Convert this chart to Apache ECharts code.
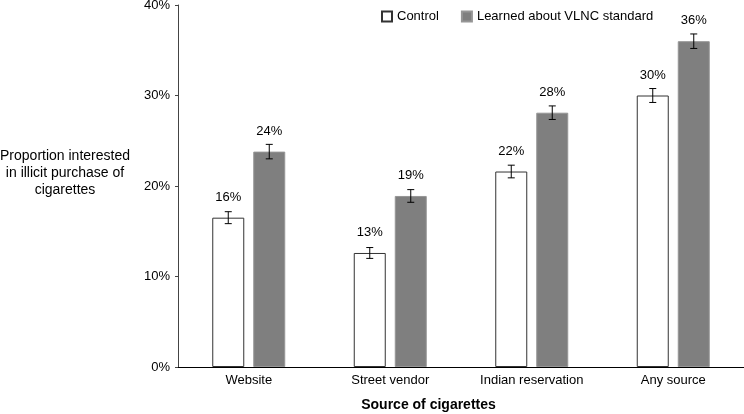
<!DOCTYPE html>
<html>
<head>
<meta charset="utf-8">
<script src="https://cdn.jsdelivr.net/npm/echarts@6/dist/echarts.min.js"></script>
<style>html,body{margin:0;padding:0;background:#fff;}#c{width:744px;height:414px;}</style>
</head>
<body>
<div id="c"></div>
<script>
const categories = ['Website', 'Street vendor', 'Indian reservation', 'Any source'];
const seriesNames = ['Control', 'Learned about VLNC standard'];
const controlValues = [16.5, 12.6, 21.6, 30.0];
const controlErrors = [0.66, 0.6, 0.7, 0.77];
const controlLabels = ['16%', '13%', '22%', '30%'];
const vlncValues = [23.8, 18.9, 28.1, 36.0];
const vlncErrors = [0.8, 0.7, 0.75, 0.8];
const vlncLabels = ['24%', '19%', '28%', '36%'];
const yTicks = [0, 10, 20, 30, 40];

const FONT = 'Liberation Sans, Arial, sans-serif';
const BAR_W = 32, BAR_GAP = 9;
const OFFSET = (BAR_W + BAR_GAP) / 2;

function errorSeries(values, errors, dir) {
  return {
    type: 'custom',
    silent: true,
    z: 10,
    data: values.map((v, i) => [i, v, errors[i]]),
    renderItem: function (params, api) {
      const i = api.value(0), v = api.value(1), e = api.value(2);
      const hi = api.coord([i, v + e]);
      const lo = api.coord([i, v - e]);
      const x = hi[0] + dir * OFFSET;
      const cap = 3.5;
      const st = { stroke: '#000', lineWidth: 1 };
      return {
        type: 'group',
        children: [
          { type: 'line', shape: { x1: x, y1: hi[1], x2: x, y2: lo[1] }, style: st },
          { type: 'line', shape: { x1: x - cap, y1: hi[1], x2: x + cap, y2: hi[1] }, style: st },
          { type: 'line', shape: { x1: x - cap, y1: lo[1], x2: x + cap, y2: lo[1] }, style: st }
        ]
      };
    }
  };
}

const chart = echarts.init(document.getElementById('c'), null, { renderer: 'canvas' });
chart.setOption({
  animation: false,
  backgroundColor: '#fff',
  textStyle: { fontFamily: FONT },
  grid: { left: 178, right: 0, top: 5, bottom: 47, containLabel: false, outerBoundsMode: 'none' },
  legend: {
    left: 381, top: 10, padding: 0,
    itemWidth: 10, itemHeight: 10, itemGap: 22,
    icon: 'rect',
    data: seriesNames,
    textStyle: { fontFamily: FONT, fontSize: 13, color: '#000' }
  },
  xAxis: {
    type: 'category',
    data: categories,
    name: 'Source of cigarettes',
    nameLocation: 'middle',
    nameGap: 31,
    nameTextStyle: { fontFamily: FONT, fontSize: 14, fontWeight: 'bold', color: '#000', padding: [0, 65, 0, 0] },
    axisLine: { lineStyle: { color: '#000', width: 1 } },
    axisTick: { show: false },
    axisLabel: { fontFamily: FONT, fontSize: 13, color: '#000', margin: 7 }
  },
  yAxis: {
    type: 'value',
    min: yTicks[0], max: yTicks[yTicks.length - 1], interval: 10,
    name: 'Proportion interested\nin illicit purchase of\ncigarettes\n{g| }',
    nameLocation: 'middle',
    nameRotate: 0,
    nameGap: 113,
    nameTextStyle: { fontFamily: FONT, fontSize: 14, lineHeight: 17, color: '#000', align: 'center', verticalAlign: 'middle',
      rich: { g: { fontSize: 14, lineHeight: 26 } } },
    axisLine: { show: true, lineStyle: { color: '#444', width: 1 } },
    axisTick: { show: true, length: 3, lineStyle: { color: '#444' } },
    splitLine: { show: false },
    axisLabel: { fontFamily: FONT, fontSize: 13, color: '#000', margin: 8, formatter: '{value}%' }
  },
  series: [
    {
      name: seriesNames[0], type: 'bar', data: controlValues,
      barWidth: BAR_W, barGap: (BAR_GAP / BAR_W * 100) + '%',
      itemStyle: { color: '#fff', borderColor: '#333', borderWidth: 1 },
      label: { show: true, position: 'top', distance: 14, fontFamily: FONT, fontSize: 13, color: '#000',
        formatter: p => controlLabels[p.dataIndex] }
    },
    {
      name: seriesNames[1], type: 'bar', data: vlncValues,
      barWidth: BAR_W,
      itemStyle: { color: '#7f7f7f', borderColor: '#969696', borderWidth: 1 },
      label: { show: true, position: 'top', distance: 14, fontFamily: FONT, fontSize: 13, color: '#000',
        formatter: p => vlncLabels[p.dataIndex] }
    },
    errorSeries(controlValues, controlErrors, -1),
    errorSeries(vlncValues, vlncErrors, 1)
  ]
});
</script>
</body>
</html>
